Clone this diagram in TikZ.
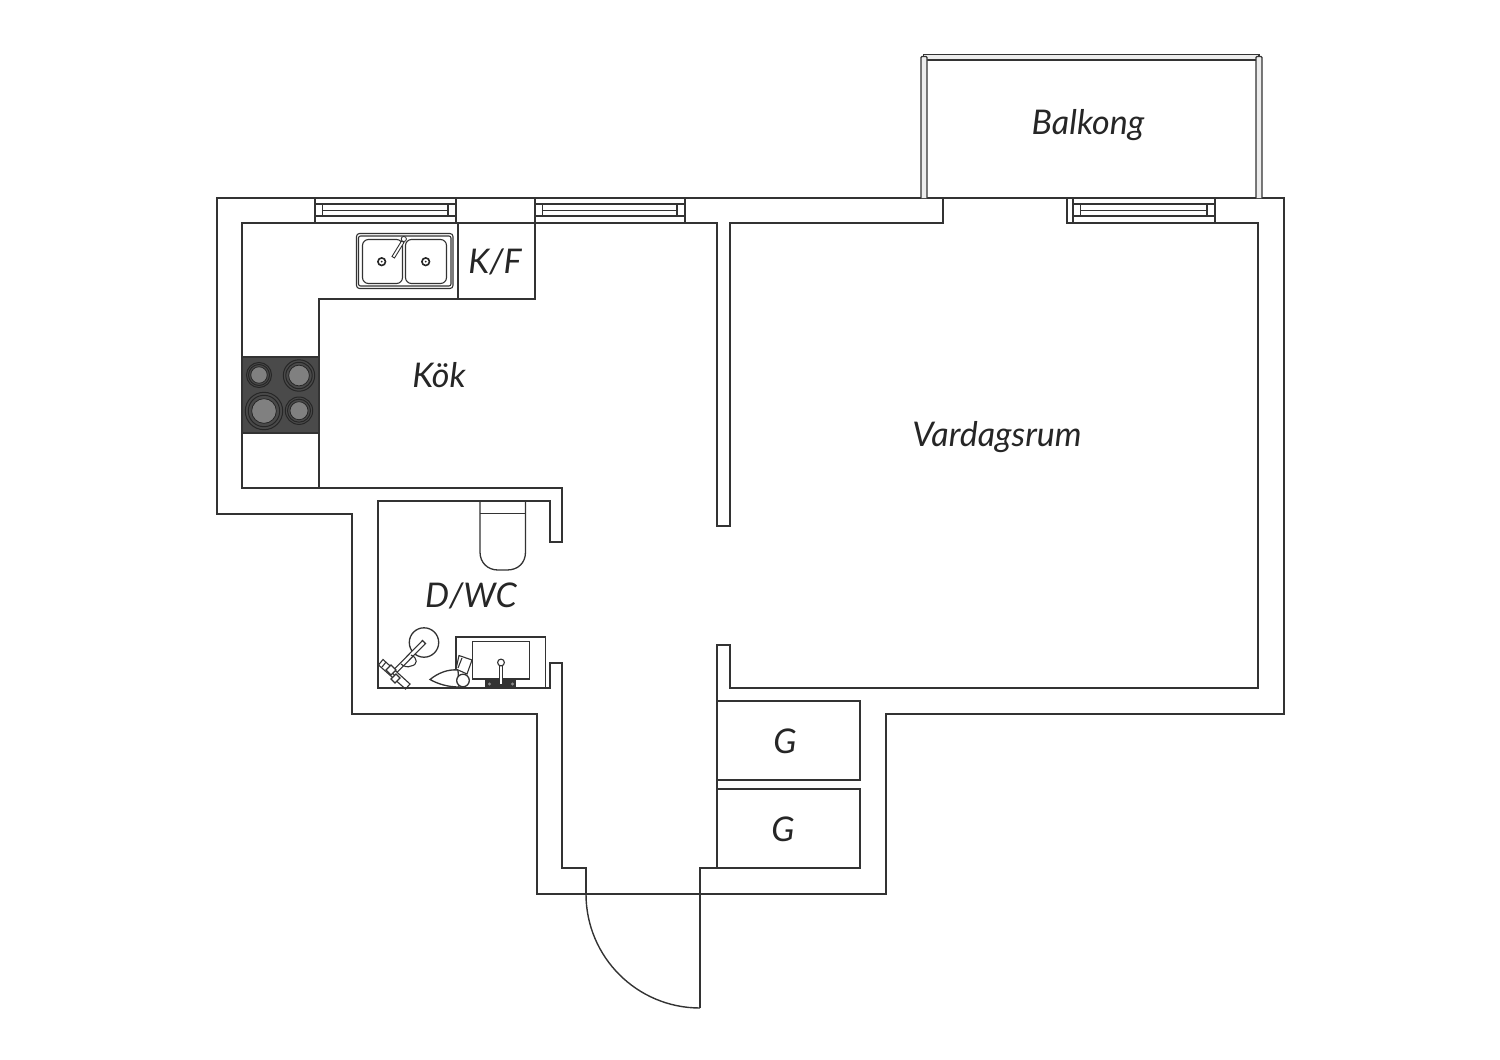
\documentclass[tikz,border=0pt]{standalone}
\usepackage{fontspec}
\setmainfont{Lato}
\usepackage{tikz}
\usetikzlibrary{positioning}
\definecolor{wallgray}{HTML}{333333}
\definecolor{hobgray}{HTML}{4A4A4A}
\definecolor{ringgray}{HTML}{808080}
\tikzset{
	wall/.style={draw=wallgray,line width=1.6pt,line join=miter},
	thinwall/.style={draw=wallgray,line width=1.3pt},
	fixture/.style={draw=wallgray,line width=1.1pt},
	room/.style={font=\fontsize{34}{34}\selectfont\itshape,text=black!85,inner sep=0pt},
}
\begin{document}
\begin{tikzpicture}[x=1pt,y=-1pt]
	\useasboundingbox (0,0) rectangle (1500,1060);
	\fill[white] (0,0) rectangle (1500,1060);

	\draw[wall] (217,198) -- (1284,198) -- (1284,714) -- (886,714) -- (886,894) -- (537,894) -- (537,714) -- (352,714) -- (352,514) -- (217,514) -- cycle;
	\draw[wall] (943,198) -- (943,223) -- (730,223) -- (730,526) -- (717,526) -- (717,223) -- (242,223) -- (242,488) -- (562,488) -- (562,542) -- (550,542) -- (550,501) -- (378,501) -- (378,688) -- (550,688) -- (550,663) -- (562,663) -- (562,868) -- (586,868) -- (586,894);
	\draw[wall] (1067,198) -- (1067,223) -- (1258,223) -- (1258,688) -- (730,688) -- (730,645) -- (717,645) -- (717,868) -- (700,868) -- (700,1008);
	\draw[wall,line width=1.4pt] (586,894) .. controls (586,957) and (637,1008) .. (700,1008);

	\foreach \xa/\xb in {315/456,535/685,1073/1215}{
		\draw[thinwall] (\xa,198) -- (\xa,223) (\xb,198) -- (\xb,223) (\xa,204) -- (\xb,204) (\xa,216) -- (\xb,216);
		\draw[thinwall] (\xa+7.5,204) -- (\xa+7.5,216) (\xb-8,204) -- (\xb-8,216) (\xa+7.5,210.5) -- (\xb-8,210.5);
	}

	\draw[thinwall,fill=black!7] (923.5,54.5) -- (1259,54.5) -- (1259,60) -- (923.5,60) -- cycle;
	\draw[thinwall,fill=black!7,rounded corners=1pt] (921,198) -- (921,56.5) -- (927,56.5) -- (927,198);
	\draw[thinwall,fill=black!7,rounded corners=1pt] (1256,198) -- (1256,56.5) -- (1262,56.5) -- (1262,198);

	\draw[thinwall] (458,223) -- (458,299) (319,488) -- (319,299) -- (535,299) -- (535,223);

	\draw[thinwall,fill=hobgray] (242.5,357) rectangle (319,433);
	\foreach \x/\y/\r in {259/375/12.5,299/375.5/15.7,264/411/18.7,299/410.7/13.7}{
		\draw[line width=1pt,draw=black!85,fill=hobgray] (\x,\y) circle[radius=\r pt];
		\draw[line width=1pt,draw=black!85,fill=hobgray] (\x,\y) circle[radius=0.84*\r pt];
		\draw[line width=.8pt,draw=black!85,fill=ringgray] (\x,\y) circle[radius=0.66*\r pt];
	}

	\draw[fixture,rounded corners=3pt] (356.5,233.5) rectangle (453,288.5);
	\draw[fixture,rounded corners=2pt] (358.5,236) rectangle (451,286);
	\draw[fixture,rounded corners=6pt] (362.5,239.5) rectangle (402.5,283.5);
	\draw[fixture,rounded corners=6pt] (405.5,239.5) rectangle (446.5,283.5);
	\foreach \x in {381.7,425.7}{
		\draw[line width=1.6pt,draw=black!85] (\x,261.7) circle[radius=3.8pt];
		\fill[black!85] (\x,261.7) circle[radius=1pt];
	}
	\draw[fixture,fill=white,line width=.9pt] (392,256.5) -- (401.5,241) -- (404,242.5) -- (394.5,258) -- cycle;
	\draw[fixture,fill=white,line width=.9pt] (403.8,239) circle[radius=2.6pt];

	\draw[thinwall] (480,501) -- (480,552) .. controls (480,563) and (488,570) .. (498,570) -- (507,570) .. controls (518,570) and (525.5,563) .. (525.5,552) -- (525.5,501);
	\draw[thinwall] (480,513.5) -- (525.5,513.5);

	\draw[thinwall] (456,688) -- (456,637) -- (545.5,637) -- (545.5,688);
	\draw[thinwall] (472.5,641.5) rectangle (529.5,679);
	\fill[black!80] (485,680) rectangle (515.5,688);
	\foreach \x in {489.5,500.5,512.5}
		\fill[black!45] (\x,684) circle[radius=1.6pt];
	\draw[fixture,fill=white] (499.5,664) rectangle (502.5,685);
	\draw[fixture,fill=white] (501,662.5) circle[radius=3.4pt];

	\draw[thinwall] (424,642.5) circle[radius=14.7pt];
	\draw[fixture,fill=white] (422.5,640.5) -- (425.5,643.5) -- (395,674.5) -- (392,671.5) -- cycle;
	\draw[fixture] (411,655) .. controls (418,658) and (418,665) .. (411,666) .. controls (408,668) and (403,666) .. (401,664);
	\draw[fixture,fill=white] (378.5,665) -- (383,659.5) -- (410,684) -- (405.5,689) -- cycle;
	\draw[fixture] (382,667) -- (386,662) (388,668) -- (396,677);
	\draw[fixture,fill=white] (386,670) -- (391,665) -- (396,670) -- (391,675) -- cycle;
	\draw[fixture,fill=white] (391,679) -- (396,674) -- (400,678) -- (395,683) -- cycle;

	\draw[thinwall,fill=white] (430,679.5) .. controls (438,673) and (448,669) .. (458,670) -- (459,687) .. controls (448,687) and (438,684) .. (430,679.5) -- cycle;
	\draw[fixture,fill=white] (459,655.5) -- (472,660) -- (467,674) -- (456,669) -- cycle;
	\draw[fixture] (462,658) -- (458,668);
	\draw[thinwall,fill=white] (463,680.5) circle[radius=6.3pt];
	\draw[thinwall] (378,688) -- (550,688);

	\draw[thinwall] (717,701) -- (860,701) -- (860,780) -- (717,780);
	\draw[thinwall] (717,789) -- (860,789) -- (860,868) -- (717,868);

	\node[room] (balkong) at (1088,125) {Balkong};
	\node[room] (kf) at (495,262) {K/F};
	\node[room] (kok) at (439,375) {Kök};
	\node[room] (vardagsrum) at (997,437) {Vardagsrum};
	\node[room] (dwc) at (471,596) {D/WC};
	\node[room] (gone) at (785,741) {G};
	\node[room] (gtwo) at (783,829) {G};
\end{tikzpicture}
\end{document}
